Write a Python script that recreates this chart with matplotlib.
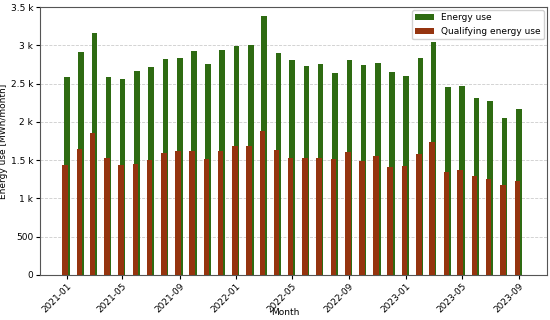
import matplotlib
matplotlib.use("Agg")
import matplotlib.pyplot as plt
import matplotlib.dates as mdates
from matplotlib.ticker import EngFormatter
import numpy as np
import pandas as pd

# monthly data, 2021-01 .. 2023-09
months = pd.date_range("2021-01-01", "2023-09-01", freq="MS")
energy_use = [2590, 2910, 3160, 2580, 2560, 2670, 2720, 2825, 2830, 2920, 2760,
              2940, 2995, 3000, 3380, 2905, 2810, 2735, 2750, 2635, 2810, 2740,
              2772, 2650, 2600, 2830, 3040, 2460, 2472, 2308, 2270, 2048, 2168]
qualifying_use = [1430, 1640, 1850, 1525, 1440, 1450, 1500, 1590, 1625, 1620, 1510,
                  1625, 1690, 1690, 1885, 1630, 1530, 1530, 1530, 1520, 1600, 1485,
                  1550, 1410, 1420, 1580, 1730, 1340, 1370, 1290, 1250, 1170, 1230]

green = "#2e6b12"
brown = "#95340f"

fig = plt.figure(figsize=(5.5, 3.2), dpi=100)
ax = fig.add_axes([0.073, 0.141, 0.921, 0.837])

ax.bar(months + pd.Timedelta(days=0.5), energy_use, width=12, color=green,
       label="Energy use", zorder=2)
ax.bar(months - pd.Timedelta(days=3), qualifying_use, width=12, color=brown,
       label="Qualifying energy use", zorder=3)

ax.set_ylim(0, 3500)
ax.set_xlim(pd.Timestamp("2020-11-05"), pd.Timestamp("2023-10-31"))
ax.yaxis.set_major_formatter(EngFormatter())
ax.set_yticks(np.arange(0, 3501, 500))

ax.xaxis.set_major_locator(mdates.MonthLocator(bymonth=[1, 5, 9]))
ax.xaxis.set_major_formatter(mdates.DateFormatter("%Y-%m"))
plt.setp(ax.get_xticklabels(), rotation=45, ha="right", rotation_mode="anchor")

ax.tick_params(labelsize=6.5, length=3, pad=2)
ax.grid(axis="y", linestyle="--", color="#cccccc", linewidth=0.6, zorder=0)
ax.set_axisbelow(True)

ax.set_xlabel("Month", fontsize=6.5)
ax.set_ylabel("Energy use [MWh/month]", fontsize=6.5)
ax.xaxis.set_label_coords(0.484, -0.125)
ax.yaxis.set_label_coords(-0.064, 0.5)
for s in ax.spines.values():
    s.set_color("#555555")

ax.legend(loc="upper right", fontsize=6.5, framealpha=0.9, borderaxespad=0.3)

fig.savefig("out.png", dpi=100)
